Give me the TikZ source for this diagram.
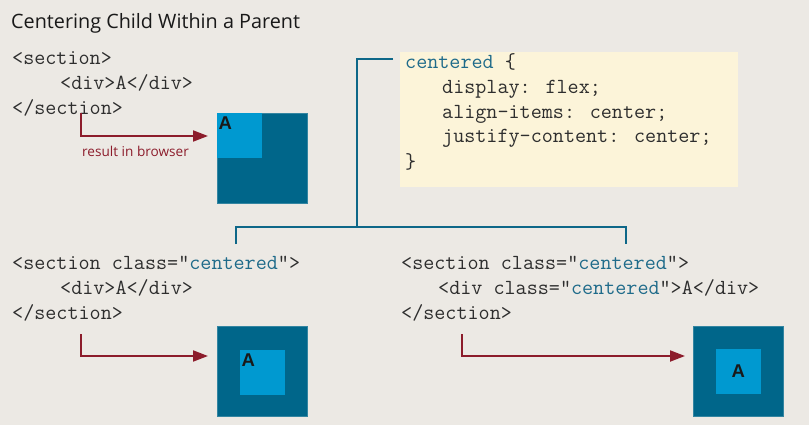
\documentclass[tikz,border=0pt]{standalone}
\usepackage{fontspec}
\usetikzlibrary{arrows.meta}
\newfontfamily\uifont{Open Sans}
\newfontfamily\letterfont{Liberation Sans}
\definecolor{bg}{HTML}{ECE9E4}
\definecolor{darkbox}{HTML}{00668A}
\definecolor{lightbox}{HTML}{0099D0}
\definecolor{connblue}{HTML}{0E6788}
\definecolor{arrred}{HTML}{8C1C2B}
\definecolor{cssyellow}{HTML}{FCF4D9}
\definecolor{codeblue}{HTML}{1F6B8A}
\definecolor{codegray}{HTML}{2E2E2E}
\newcommand{\cw}[1]{\textcolor{codeblue}{#1}}
\tikzset{
  code/.style={inner sep=0pt, anchor=base west, text=codegray, font=\ttfamily\fontsize{21.5}{22}\selectfont},
  conn/.style={draw=connblue, line width=2.5pt},
  resarrow/.style={draw=arrred, line width=2pt, -{Triangle[length=15pt,width=11pt]}},
  outerbox/.style={fill=darkbox, draw=darkbox!80!white, line width=0.5pt, inner sep=0pt, minimum width=90pt, minimum height=90pt},
  innerbox/.style={fill=lightbox, inner sep=0pt, minimum width=45pt, minimum height=45pt},
  boxletter/.style={inner sep=0pt, text=black!90, font=\letterfont\bfseries\fontsize{18.5}{19}\selectfont},
}
\begin{document}
\begin{tikzpicture}[x=1pt,y=-1pt]
\fill[bg] (0,0) rectangle (809,425);
\useasboundingbox (0,0) rectangle (809,425);

% title
\node[inner sep=0pt, anchor=base west, text=black!90, font=\uifont\fontsize{19.8}{21}\selectfont] (title) at (11,29) {Centering Child Within a Parent};

% top-left code
\node[code] (c1a) at (12,65) {<section>};
\node[code] (c1b) at (60,90) {<div>A</div>};
\node[code] (c1c) at (12,115) {</section>};

% css box
\node[fill=cssyellow, inner sep=0pt, minimum width=338pt, minimum height=135pt, anchor=north west] (css) at (400,52) {};
\node[code] (s1) at (405,69) {\cw{centered} \{};
\node[code] (s2) at (442,94) {display: flex;};
\node[code] (s3) at (442,118.5) {align-items: center;};
\node[code] (s4) at (442,143) {justify-content: center;};
\node[code] (s5) at (405,168) {\}};

% bottom-left code
\node[code] (c2a) at (12,269) {<section class="\cw{centered}">};
\node[code] (c2b) at (60,294) {<div>A</div>};
\node[code] (c2c) at (12,319) {</section>};

% bottom-right code
\node[code] (c3a) at (401,269) {<section class="\cw{centered}">};
\node[code] (c3b) at (438,294) {<div class="\cw{centered}">A</div>};
\node[code] (c3c) at (401,319) {</section>};

% connectors
\coordinate (cssin) at (393,59);
\coordinate (trunk) at (357,227);
\coordinate (leftdrop) at (236,244);
\coordinate (rightdrop) at (626,244);
\draw[conn] (cssin) -- (cssin -| trunk) -- (trunk);
\draw[conn] (leftdrop) |- (trunk) -| (rightdrop);

% result boxes
\node[outerbox, anchor=north west] (b1) at (217,113) {};
\node[innerbox, anchor=north west] (b1i) at (b1.north west) {};
\node[boxletter, anchor=north west] (b1a) at ([xshift=1.5pt,yshift=-3.5pt]b1.north west) {A};

\node[outerbox, anchor=north west] (b2) at (217,326) {};
\node[innerbox, anchor=north west] (b2i) at (240,350) {};
\node[boxletter, anchor=north west] (b2a) at ([xshift=1.5pt,yshift=-3.5pt]b2i.north west) {A};

\node[outerbox, anchor=north west] (b3) at (693,326) {};
\node[innerbox] (b3i) at (b3.center) {};
\node[boxletter] (b3a) at (b3i.center) {A};

% arrows
\coordinate (a1s) at (81,113);
\coordinate (a1e) at (208,136);
\draw[resarrow] (a1s) |- (a1e);
\node[inner sep=0pt, anchor=base west, text=arrred, font=\uifont\fontsize{13.6}{15}\selectfont] (lbl) at (82,157) {result in browser};

\coordinate (a2s) at (81,334);
\coordinate (a2e) at (208,356);
\draw[resarrow] (a2s) |- (a2e);

\coordinate (a3s) at (462,334);
\coordinate (a3e) at (685,356);
\draw[resarrow] (a3s) |- (a3e);
\end{tikzpicture}
\end{document}
